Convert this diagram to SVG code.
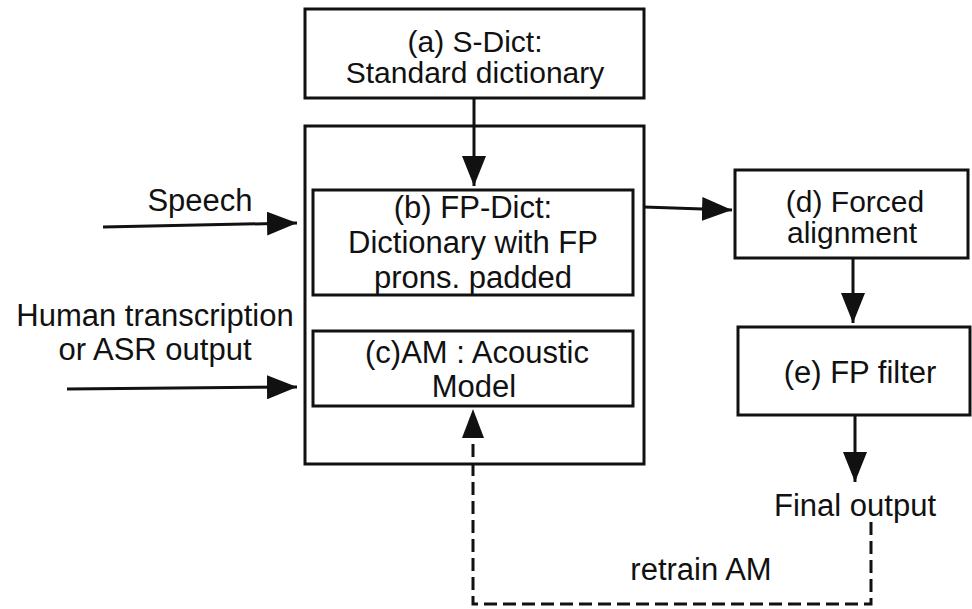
<svg xmlns="http://www.w3.org/2000/svg" width="972" height="609" viewBox="0 0 972 609">
<defs>
<style>
.box{fill:none;stroke:#111;stroke-width:3}
.ln{fill:none;stroke:#111;stroke-width:3}
.dash{fill:none;stroke:#111;stroke-width:3;stroke-dasharray:13 6}
text{font-family:"Liberation Sans",Arial,sans-serif;font-size:31px;fill:#111;text-anchor:middle}
.tight{font-size:30px}
</style>
<marker id="ah" markerUnits="userSpaceOnUse" markerWidth="30" markerHeight="24" refX="30" refY="12" orient="auto">
<path d="M0,0 L30,12 L0,24 Z" fill="#111"/>
</marker>
</defs>
<rect width="972" height="609" fill="#fff"/>
<g id="outer"><rect class="box" x="305" y="126" width="339" height="338"/></g>
<g id="a">
<rect class="box" x="305" y="9" width="339" height="89"/>
<text class="tight" x="475" y="52">(a) S-Dict:</text>
<text class="tight" x="475" y="83">Standard dictionary</text>
</g>
<g id="b">
<rect class="box" x="313" y="190" width="320" height="105"/>
<text x="473" y="218">(b) FP-Dict:</text>
<text x="473" y="253">Dictionary with FP</text>
<text x="473" y="288">prons. padded</text>
</g>
<g id="c">
<rect class="box" x="313" y="331" width="320" height="75"/>
<text x="477" y="363">(c)AM : Acoustic</text>
<text x="474" y="397">Model</text>
</g>
<g id="d">
<rect class="box" x="735" y="170" width="233" height="88"/>
<text class="tight" x="855" y="212">(d) Forced</text>
<text class="tight" x="852" y="243">alignment</text>
</g>
<g id="e">
<rect class="box" x="738" y="327" width="232" height="88"/>
<text x="860" y="383">(e) FP filter</text>
</g>
<g id="labels">
<text x="200" y="211">Speech</text>
<text x="155" y="326">Human transcription</text>
<text x="155" y="360">or ASR output</text>
<text x="855" y="516">Final output</text>
<text x="701" y="580">retrain AM</text>
</g>
<g id="connectors">
<line class="ln" x1="474" y1="98" x2="474" y2="186" marker-end="url(#ah)"/>
<line class="ln" x1="103" y1="227" x2="297" y2="223" marker-end="url(#ah)"/>
<line class="ln" x1="67" y1="389" x2="297" y2="387" marker-end="url(#ah)"/>
<line class="ln" x1="644" y1="207" x2="732" y2="210" marker-end="url(#ah)"/>
<line class="ln" x1="853" y1="258" x2="853" y2="323" marker-end="url(#ah)"/>
<line class="ln" x1="855" y1="415" x2="855" y2="482" marker-end="url(#ah)"/>
<path class="dash" d="M871,522 L871,604 L473,604 L473,440"/>
<path d="M462,438 L473,409 L484,438 Z" fill="#111"/>
</g>
</svg>
